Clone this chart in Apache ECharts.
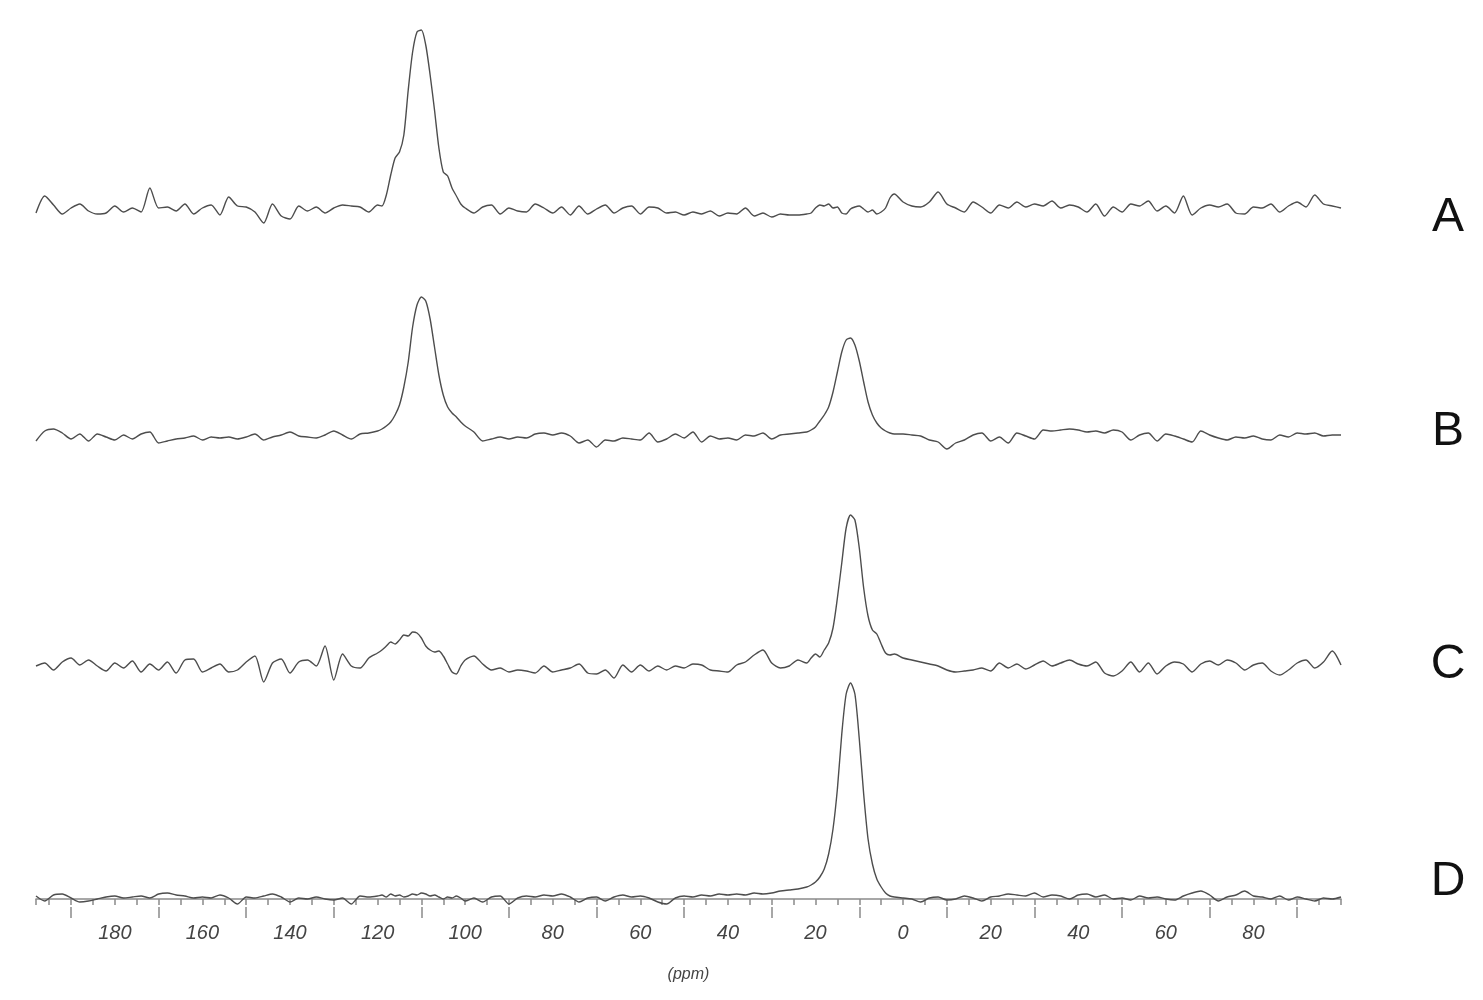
<!DOCTYPE html>
<html>
<head>
<meta charset="utf-8">
<title>NMR spectra</title>
<script src="https://cdn.jsdelivr.net/npm/echarts@6/dist/echarts.min.js"></script>
<style>
  html, body { margin: 0; padding: 0; background: #fff; }
  #chart { width: 1483px; height: 1000px; }
</style>
</head>
<body>
<div id="chart"></div>
<script>
// chemical shift (ppm) of every sample, left to right
var ppm = [
  198,196,194,192,190,188,186,184,182,180,178,176,174,172,170,168,166,164,162,160,
  158,156,154,152,150,148,146,144,142,140,138,136,134,132,130,128,126,124,122,
  120,119,118,117,116,115,114,113,112,111,110,109,108,107,106,105,104,103,102,101,100,
  98,96,94,92,90,88,86,84,82,80,78,76,74,72,70,68,66,64,62,60,
  58,56,54,52,50,48,46,44,42,40,38,36,34,32,30,28,26,24,
  22,21,20,19,18,17,16,15,14,13,12,11,10,9,8,7,6,5,4,3,2,
  0,-2,-4,-6,-8,-10,-12,-14,-16,-18,-20,-22,-24,-26,-28,-30,-32,-34,-36,-38,
  -40,-42,-44,-46,-48,-50,-52,-54,-56,-58,-60,-62,-64,-66,-68,-70,-72,-74,-76,-78,
  -80,-82,-84,-86,-88,-90,-92,-94,-96,-98,-100
];

var spectrumA = [
  -3,14,5,-4,2,6,-1,-4,-3,4,-2,2,-2,22,2,3,-1,6,-4,2,
  5,-5,13,4,3,-2,-13,6,-6,-9,4,-1,3,-3,2,5,4,3,-2,
  5,4,15,35,52,58,75,120,158,178,180,165,135,100,62,38,34,22,14,6,2,
  -3,3,5,-4,2,-1,-2,6,2,-3,3,-5,4,-4,1,5,-3,2,4,-4,
  3,2,-3,-2,-5,-2,-4,-1,-6,-3,-4,2,-6,-3,-7,-4,-5,-5,
  -4,-3,2,5,4,6,2,3,-3,-4,1,3,4,1,-2,0,-4,-2,2,12,16,
  8,4,3,8,18,6,2,-2,8,3,-3,5,2,8,3,6,4,9,2,5,
  3,-2,6,-6,3,-2,6,4,9,-1,4,-3,14,-5,2,5,3,6,-3,-4,
  3,2,6,-2,4,8,3,15,6,4,2
];

var spectrumB = [
  -4,6,8,4,-2,3,-4,3,0,-3,2,-2,3,5,-6,-4,-2,-1,1,-3,
  0,-1,0,-2,0,3,-3,0,2,5,1,0,-1,2,6,2,-2,3,4,
  6,8,11,15,22,32,50,75,110,132,140,136,118,90,62,42,30,24,20,15,11,
  5,-4,-2,0,-2,0,-1,3,4,2,4,1,-6,-3,-10,-3,-4,-1,-2,-3,
  4,-5,-2,3,-1,5,-5,1,-2,-1,-3,2,1,4,-2,2,3,4,
  5,7,10,16,22,30,45,65,85,97,99,92,76,55,35,22,14,9,6,4,3,
  3,2,1,-3,-5,-12,-6,-3,2,4,-4,0,-6,4,1,-2,7,6,7,8,
  7,5,6,4,7,5,-3,2,4,-4,3,1,-2,-5,6,2,-1,-3,0,-1,
  1,-2,-3,2,0,4,3,4,1,2,2
];

var spectrumC = [
  2,5,-2,6,10,3,8,2,-3,5,0,7,-4,4,-2,6,-5,8,9,-4,
  0,4,-4,-2,6,12,-14,5,9,-5,6,8,2,22,-12,14,2,0,10,
  15,18,22,26,24,28,33,32,36,35,30,22,18,16,17,12,4,-4,-6,2,8,
  12,4,-2,0,-4,-2,-3,-5,2,-4,-2,0,4,-5,-6,-2,-10,3,-4,3,
  -3,2,-2,2,0,4,3,-2,-3,-4,3,6,13,18,5,0,2,8,
  5,10,14,11,18,25,40,70,105,140,153,148,120,80,52,38,34,24,15,13,14,
  10,8,6,4,2,-2,-4,-3,-2,0,-3,5,0,4,-1,3,7,2,5,8,
  4,2,6,-5,-8,-3,6,-4,5,-6,2,6,4,-4,4,7,3,8,5,-2,
  3,5,-3,-7,-2,5,8,0,6,17,3
];

var spectrumD = [
  3,-2,4,5,1,-3,-2,0,2,3,1,2,3,1,5,6,4,3,1,2,
  1,4,1,-5,2,1,3,5,2,-3,1,0,2,0,-1,1,-5,3,2,
  3,4,2,5,3,4,2,3,5,4,6,5,3,4,2,0,2,1,3,1,-2,
  1,-3,2,3,-5,1,3,2,4,3,5,2,-3,1,2,-2,2,4,2,3,
  1,-3,-5,1,3,2,4,3,5,4,5,4,6,5,6,8,9,10,
  12,14,17,22,30,45,70,110,165,205,216,205,160,105,60,35,20,12,6,3,2,
  1,0,-3,1,2,-1,0,3,1,-2,2,3,5,4,3,6,2,4,3,0,
  4,5,2,4,0,1,-1,3,1,2,0,-1,3,6,8,4,-2,2,4,8,
  3,2,0,3,-1,2,0,-2,1,0,2
];

var labels = ['A', 'B', 'C', 'D'];
// labelled ticks (right of 0 printed without sign) and the longer ticks
var labelTicks = [180,160,140,120,100,80,60,40,20,0,-20,-40,-60,-80];
var longTicks = [190,170,150,130,110,90,70,50,30,10,-10,-30,-50,-70,-90];

var spectra = [spectrumA, spectrumB, spectrumC, spectrumD];
var baselines = [210, 437, 668, 899];
var labelY = [218, 432, 665, 882];
var yMins = [-40, -40, -40, -8];
var lineColor = '#4d4d4d';

var chartDom = document.getElementById('chart');
var myChart = echarts.init(chartDom);

var grids = [], xAxes = [], yAxes = [], series = [], graphics = [];
for (var k = 0; k < 4; k++) {
  var yMax = yMins[k] + 240;
  grids.push({ left: 36, width: 1305, top: baselines[k] - yMax, height: 240 });
  xAxes.push({
    gridIndex: k, type: 'value', min: -100, max: 198, inverse: true, show: false
  });
  yAxes.push({
    gridIndex: k, type: 'value', min: yMins[k], max: yMax, show: false
  });
  series.push({
    type: 'line',
    xAxisIndex: k,
    yAxisIndex: k,
    data: ppm.map(function (p, i) { return [p, spectra[k][i]]; }),
    showSymbol: false,
    smooth: 0.25,
    lineStyle: { color: lineColor, width: 1.4 },
    silent: true
  });
  graphics.push({
    type: 'text',
    x: 1448,
    y: labelY[k],
    style: {
      text: labels[k],
      font: '48px "Liberation Sans", Arial, sans-serif',
      fill: '#111',
      textAlign: 'center',
      textVerticalAlign: 'middle'
    }
  });
}

// visible axis under D: short ticks every 5 ppm and labels
xAxes[3] = {
  gridIndex: 3, type: 'value', min: -100, max: 198, inverse: true,
  position: 'bottom', interval: 5,
  splitLine: { show: false },
  axisLine: { show: true, lineStyle: { color: '#8a8a8a', width: 1.5 } },
  axisTick: { show: true, length: 6, lineStyle: { color: '#8a8a8a', width: 1.5 } },
  axisLabel: {
    customValues: labelTicks,
    margin: 16,
    fontSize: 20,
    fontStyle: 'italic',
    fontFamily: '"Liberation Sans", Arial, sans-serif',
    color: '#444',
    formatter: function (v) { return String(Math.abs(v)); }
  },
  name: '(ppm)',
  nameLocation: 'middle',
  nameGap: 60,
  nameTextStyle: {
    fontSize: 16, fontStyle: 'italic', color: '#444',
    fontFamily: '"Liberation Sans", Arial, sans-serif'
  }
};
// longer ticks every 20 ppm, between the labels
xAxes.push({
  gridIndex: 3, type: 'value', min: -100, max: 198, inverse: true,
  position: 'bottom',
  splitLine: { show: false },
  axisLine: { show: false },
  axisLabel: { show: false },
  axisTick: {
    show: true, length: 11, customValues: longTicks,
    lineStyle: { color: '#8a8a8a', width: 1.5 }
  }
});

var option = {
  animation: false,
  backgroundColor: '#fff',
  grid: grids,
  xAxis: xAxes,
  yAxis: yAxes,
  series: series,
  graphic: graphics
};
myChart.setOption(option);
</script>
</body>
</html>
